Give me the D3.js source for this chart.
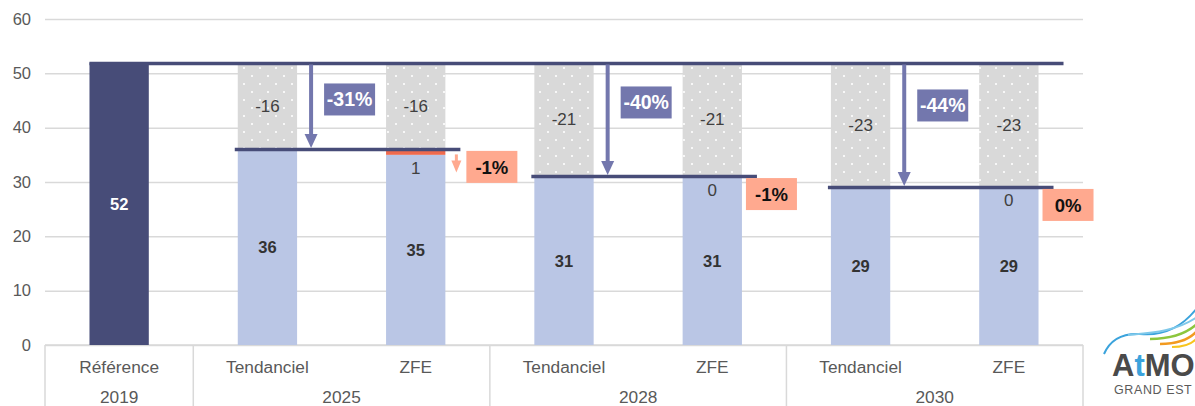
<!DOCTYPE html>
<html>
<head>
<meta charset="utf-8">
<script src="https://cdn.jsdelivr.net/npm/d3@7"></script>
<style>
  html, body { margin: 0; padding: 0; background: #fff; }
  svg { display: block; font-family: "Liberation Sans", Arial, sans-serif; }
</style>
</head>
<body>
<svg id="chart" width="1195" height="406"></svg>
<script>
// Emissions by scenario (reference year 2019, then trend vs ZFE for each horizon)
const scenarios   = ["Référence", "Tendanciel", "ZFE", "Tendanciel", "ZFE", "Tendanciel", "ZFE"];
const years       = ["2019", "2025", "2028", "2030"];
const yearOf      = [0, 1, 1, 2, 2, 3, 3];
const remaining   = [52, 36, 35, 31, 31, 29, 29];
const zfeGain     = [null, null, 1, null, 0, null, 0];
const reduction   = [null, -16, -16, -21, -21, -23, -23];
const trendChange = ["-31%", "-40%", "-44%"];
const zfeChange   = ["-1%", "-1%", "0%"];
const yTicks      = [0, 10, 20, 30, 40, 50, 60];

const C = {
  ref: "#474C78", blue: "#BAC6E5", gray: "#D9D9D9", grid: "#D9D9D9",
  purple: "#7377AD", salmon: "#FFA98F", red: "#EF6A4E", text: "#404040", axis: "#595959"
};

const svg = d3.select("#chart");
const plotLeft = 45, plotRight = 1083, plotBottom = 345, plotTop = 19;
const base = remaining[0];

const y = d3.scaleLinear().domain([0, 60]).range([plotBottom, plotTop]);
const x = d3.scaleBand().domain(d3.range(scenarios.length)).range([plotLeft, plotRight])
  .paddingInner(0.6).paddingOuter(0.3);
const bw = x.bandwidth();

// dotted fill for the avoided part of each bar
const defs = svg.append("defs");
const pat = defs.append("pattern").attr("id", "dots")
  .attr("width", 16).attr("height", 16).attr("patternUnits", "userSpaceOnUse");
pat.append("rect").attr("width", 16).attr("height", 16).attr("fill", C.gray);
pat.append("circle").attr("cx", 4).attr("cy", 4).attr("r", 1.1).attr("fill", "#fff");
pat.append("circle").attr("cx", 12).attr("cy", 12).attr("r", 1.1).attr("fill", "#fff");

// value axis with gridlines
const yAxis = svg.append("g").attr("transform", `translate(${plotLeft},0)`)
  .call(d3.axisLeft(y).tickValues(yTicks).tickSize(-(plotRight - plotLeft)).tickPadding(14));
yAxis.select(".domain").remove();
yAxis.selectAll(".tick line").attr("stroke", C.grid).attr("stroke-width", 1.5);
yAxis.selectAll(".tick text").attr("fill", C.axis).attr("font-size", 16.5)
  .attr("font-family", "Liberation Sans, Arial, sans-serif");

// category axis: two rows (scenario, year) boxed by separators
const cat = svg.append("g");
cat.append("line").attr("x1", plotLeft).attr("x2", plotRight).attr("y1", plotBottom).attr("y2", plotBottom)
  .attr("stroke", C.grid).attr("stroke-width", 1.5);
const groups = years.map((yr, g) => {
  const idx = d3.range(scenarios.length).filter(i => yearOf[i] === g);
  const x0 = plotLeft + x.step() * idx[0];
  const x1 = plotLeft + x.step() * (idx[idx.length - 1] + 1);
  return { yr, x0, x1 };
});
const seps = [plotLeft].concat(groups.map(g => g.x1));
cat.selectAll("line.sep").data(seps).join("line").attr("class", "sep")
  .attr("x1", d => d).attr("x2", d => d).attr("y1", plotBottom).attr("y2", 406)
  .attr("stroke", C.grid).attr("stroke-width", 1.5);
cat.selectAll("text.scen").data(scenarios).join("text").attr("class", "scen")
  .attr("x", (d, i) => x(i) + bw / 2).attr("y", 372.5)
  .attr("text-anchor", "middle").attr("font-size", 17.3).attr("fill", C.axis).text(d => d);
cat.selectAll("text.year").data(groups).join("text").attr("class", "year")
  .attr("x", d => (d.x0 + d.x1) / 2).attr("y", 402.5)
  .attr("text-anchor", "middle").attr("font-size", 17.3).attr("fill", C.axis).text(d => d.yr);

// bars
const bars = svg.append("g");
remaining.forEach((v, i) => {
  const bx = x(i);
  if (i === 0) {
    bars.append("rect").attr("x", bx).attr("width", bw)
      .attr("y", y(v)).attr("height", y(0) - y(v)).attr("fill", C.ref);
    return;
  }
  const gain = zfeGain[i] || 0;
  const topOfGain = v + gain;
  const topOfAll = topOfGain - reduction[i];
  bars.append("rect").attr("x", bx).attr("width", bw)
    .attr("y", y(v)).attr("height", y(0) - y(v)).attr("fill", C.blue);
  if (gain > 0) {
    bars.append("rect").attr("x", bx).attr("width", bw)
      .attr("y", y(topOfGain)).attr("height", y(v) - y(topOfGain)).attr("fill", C.red);
  }
  bars.append("rect").attr("x", bx).attr("width", bw)
    .attr("y", y(topOfAll)).attr("height", y(topOfGain) - y(topOfAll)).attr("fill", "url(#dots)");
});

// bar labels
const labels = svg.append("g").attr("text-anchor", "middle").attr("font-size", 17);
remaining.forEach((v, i) => {
  const cx = x(i) + bw / 2;
  labels.append("text").attr("x", cx).attr("y", y(v / 2)).attr("dy", "0.35em")
    .attr("font-size", 16.5).attr("font-weight", "bold")
    .attr("fill", i === 0 ? "#fff" : "#333").text(v);
  if (i === 0) return;
  const gain = zfeGain[i] || 0;
  const topOfGain = v + gain;
  labels.append("text").attr("x", cx).attr("y", y(topOfGain + (-reduction[i]) / 2)).attr("dy", "0.35em")
    .attr("fill", C.text).text(reduction[i]);
  if (zfeGain[i] !== null) {
    labels.append("text").attr("x", cx).attr("y", y(v) + 13).attr("dy", "0.35em")
      .attr("fill", C.text).text(zfeGain[i]);
  }
});

// reference level and the level reached by each trend scenario
const ann = svg.append("g");
ann.append("line").attr("x1", x(0)).attr("x2", x(6) + bw + 25)
  .attr("y1", y(base) + 1).attr("y2", y(base) + 1)
  .attr("stroke", C.ref).attr("stroke-width", 3.5);

[1, 2, 3].forEach((g, k) => {
  const ti = 2 * g - 1, zi = 2 * g;
  const ly = y(remaining[ti]);
  ann.append("line").attr("x1", x(ti) - 3).attr("x2", x(zi) + bw + 15)
    .attr("y1", ly).attr("y2", ly).attr("stroke", C.ref).attr("stroke-width", 3.5);

  // drop arrow from the reference level
  const ax = x(ti) + bw + 14;
  const tip = ly - 1.5;
  ann.append("line").attr("x1", ax).attr("x2", ax).attr("y1", y(base) + 2).attr("y2", tip - 12)
    .attr("stroke", C.purple).attr("stroke-width", 4);
  ann.append("path").attr("d", `M${ax - 6.5},${tip - 14}L${ax + 6.5},${tip - 14}L${ax},${tip}Z`)
    .attr("fill", C.purple);

  // trend percentage badge
  const cy = y(base) + 1 + 36 + 3 * k;
  ann.append("rect").attr("x", ax + 13).attr("y", cy - 16).attr("width", 51).attr("height", 32)
    .attr("fill", C.purple);
  ann.append("text").attr("x", ax + 38.5).attr("y", cy).attr("dy", "0.36em")
    .attr("text-anchor", "middle").attr("font-size", 19.5).attr("font-weight", "bold")
    .attr("fill", "#fff").text(trendChange[k]);

  // ZFE effect vs trend
  const gain = zfeGain[zi];
  let bx = x(zi) + bw + 4;
  if (gain > 0) {
    const sx = x(zi) + bw + 11;
    ann.append("line").attr("x1", sx).attr("x2", sx).attr("y1", ly + 5).attr("y2", ly + 14)
      .attr("stroke", C.salmon).attr("stroke-width", 3);
    ann.append("path").attr("d", `M${sx - 5},${ly + 11}L${sx + 5},${ly + 11}L${sx},${ly + 23}Z`)
      .attr("fill", C.salmon);
    bx = x(zi) + bw + 21;
  }
  ann.append("rect").attr("x", bx).attr("y", ly + 1.5).attr("width", 51).attr("height", 32)
    .attr("fill", C.salmon);
  ann.append("text").attr("x", bx + 25.5).attr("y", ly + 17.5).attr("dy", "0.36em")
    .attr("text-anchor", "middle").attr("font-size", 18.5).attr("font-weight", "bold")
    .attr("fill", "#111").text(zfeChange[k]);
});

// ATMO Grand Est mark in the corner
const logo = svg.append("g");
const waves = [
  { d: "M1104,354 C1110,340 1122,333 1140,334 C1160,336 1180,330 1197,308", c: "#3BA3DC", w: 2 },
  { d: "M1128,335 C1150,333 1175,332 1197,317", c: "#7EC8EA", w: 2 },
  { d: "M1150,339 C1170,339 1186,334 1197,324", c: "#8CC63E", w: 2.5 },
  { d: "M1160,344 C1178,344 1190,339 1197,331", c: "#F29A1F", w: 2.5 },
  { d: "M1172,347 C1184,347 1192,344 1197,338", c: "#F7C51E", w: 2 }
];
logo.selectAll("path").data(waves).join("path").attr("d", d => d.d)
  .attr("fill", "none").attr("stroke", d => d.c).attr("stroke-width", d => d.w);
const word = logo.append("text").attr("x", 1112).attr("y", 376).attr("font-size", 31)
  .attr("font-weight", "bold").attr("letter-spacing", 0).attr("fill", "#4A4A4A");
word.append("tspan").text("A");
word.append("tspan").attr("fill", "#3BA3DC").text("t");
word.append("tspan").text("MO");
logo.append("text").attr("x", 1114).attr("y", 393.5).attr("font-size", 12.5)
  .attr("letter-spacing", 0.6).attr("fill", "#5A5A5A").text("GRAND EST");
</script>
</body>
</html>
